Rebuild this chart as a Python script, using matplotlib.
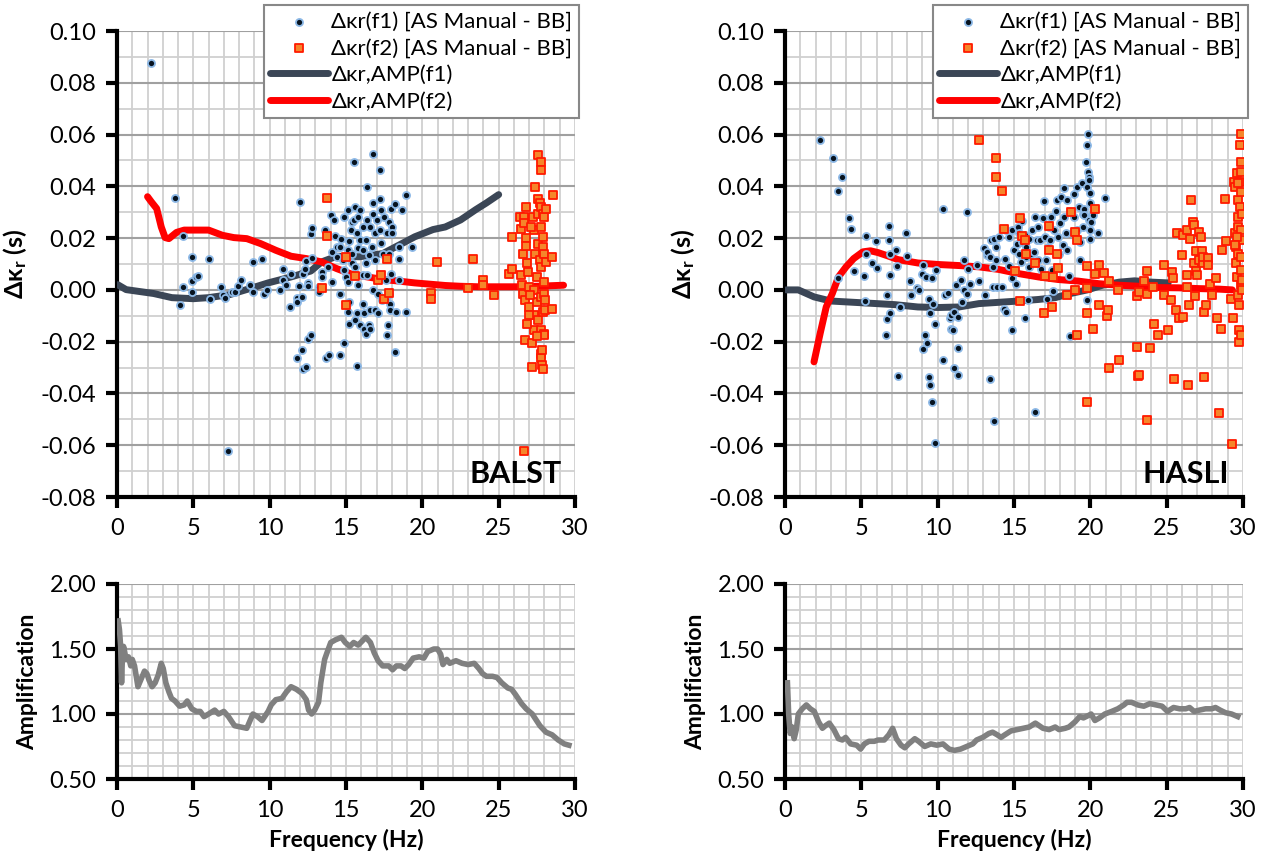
import numpy as np
import matplotlib.pyplot as plt
from matplotlib.ticker import MultipleLocator, FormatStrFormatter

plt.rcParams['font.family'] = ['Lato', 'DejaVu Sans']
plt.rcParams['mathtext.default'] = 'regular'

# ---- BALST: manual kappa differences (f, dk) ----
balst_f1_pts = [
    (2.2, 0.0875), (3.82, 0.0356), (4.3, 0.021), (4.1, -0.006), (4.3, 0.001), (4.9, 0.0128),
    (4.9, 0.0033), (4.9, -0.001), (5.2, 0.005), (5.3, 0.0055), (6.0, 0.012), (6.1, -0.0036),
    (6.8, 0.001), (6.95, -0.002), (7.1, -0.003), (7.3, -0.0622), (7.5, -0.001), (7.7, -0.001),
    (7.9, 0.0015), (8.1, 0.004), (8.7, 0.002), (8.9, -0.001), (8.9, 0.0108), (9.5, 0.012),
    (9.6, -0.0015), (9.8, 0.0), (10.7, 0.0), (10.9, 0.008), (10.9, 0.0037), (11.1, 0.0018),
    (11.3, -0.0066), (11.4, 0.006), (11.8, -0.0033), (11.8, -0.0046), (12.0, 0.0338),
    (11.8, -0.0265), (12.1, -0.0233), (12.2, -0.0307), (12.4, -0.0298), (12.5, -0.019),
    (12.7, -0.0173), (11.9, 0.0014), (12.1, -0.0027), (12.2, 0.0063), (12.3, 0.008),
    (12.4, 0.011), (12.5, 0.0027), (12.5, 0.0014), (12.7, 0.0214), (12.8, 0.024), (12.8, 0.0124),
    (13.2, -0.001), (13.2, 0.0012), (13.4, 0.007), (13.4, 0.005), (13.6, 0.023), (13.7, -0.0263),
    (13.8, 0.009), (13.9, -0.025), (14.0, 0.029), (14.1, 0.0147), (14.1, 0.003), (14.2, 0.027),
    (14.3, 0.021), (14.4, 0.0166), (14.4, 0.0128), (14.6, 0.0166), (14.6, -0.0014), (14.6, -0.025),
    (14.7, 0.0196), (14.8, 0.0115), (14.9, -0.0207), (14.9, 0.028), (14.9, 0.0076), (15.0, 0.005),
    (15.1, 0.0308), (15.1, 0.0153), (15.1, 0.003), (15.1, -0.0085), (15.2, -0.013), (15.2, -0.0046),
    (15.2, 0.019), (15.3, 0.0233), (15.4, 0.0263), (15.4, 0.014), (15.4, 0.0102), (15.5, 0.0495),
    (15.5, 0.027), (15.6, 0.032), (15.6, 0.0089), (15.6, -0.0117), (15.7, -0.0294), (15.7, -0.0091),
    (15.7, 0.0218), (15.8, 0.016), (15.8, 0.028), (15.8, 0.0018), (15.9, -0.0137), (15.9, 0.0308),
    (15.9, 0.0192), (16.1, 0.0057), (16.1, -0.0053), (16.1, 0.0153), (16.1, 0.0243), (16.2, -0.0091),
    (16.2, -0.015), (16.3, -0.0169), (16.3, 0.0102), (16.3, 0.0192), (16.4, 0.0396), (16.4, 0.027),
    (16.4, 0.0057), (16.5, -0.0137), (16.5, 0.0134), (16.6, 0.0243), (16.6, -0.0079), (16.6, -0.015),
    (16.7, 0.0166), (16.75, 0.0523), (16.8, 0.0334), (16.8, 0.0), (16.8, 0.0295), (16.9, 0.0218),
    (16.9, -0.0079), (16.9, 0.0115), (17.0, 0.027), (17.1, -0.0014), (17.1, -0.0091), (17.2, 0.0353),
    (17.2, 0.023), (17.25, 0.0463), (17.3, 0.0308), (17.3, 0.018), (17.35, -0.004), (17.4, 0.014),
    (17.5, 0.028), (17.6, 0.0037), (17.6, -0.0033), (17.7, 0.0218), (17.7, -0.0175), (17.75, -0.0137),
    (17.8, 0.0263), (17.8, 0.014), (17.8, -0.0014), (17.9, -0.0053), (17.9, -0.0079), (17.95, 0.0314),
    (17.95, 0.0063), (18.0, 0.0243), (18.0, 0.0218), (18.2, 0.033), (18.2, -0.024), (18.3, -0.0085),
    (18.45, 0.0166), (18.45, 0.0121), (18.5, 0.0037), (18.7, 0.031), (18.9, 0.0368), (18.9, -0.0085),
    (19.3, 0.0164),
]
balst_f2_pts = [
    (13.75, 0.0356), (13.75, 0.021), (13.4, 0.0008), (15.0, 0.0128), (15.0, -0.006), (15.6, 0.0055),
    (17.1, 0.0037), (17.5, -0.0036), (17.7, 0.012), (17.8, -0.0012), (17.3, 0.0058), (20.6, -0.0012),
    (20.6, -0.0035), (20.95, 0.0108), (23.0, 0.0009), (23.3, 0.012), (24.0, 0.0037), (24.0, 0.002),
    (24.7, -0.002), (25.7, 0.006), (25.85, 0.008), (25.9, 0.0203), (26.4, 0.028), (26.45, 0.0237),
    (26.65, 0.028), (26.65, 0.026), (26.8, 0.0322), (26.45, 0.0057), (26.5, 0.0018), (26.6, 0.0138),
    (26.6, -0.0014), (26.7, -0.0192), (26.65, -0.0622), (26.7, -0.004), (26.8, 0.0201), (26.8, 0.0169),
    (26.85, 0.0102), (26.95, 0.007), (27.0, 0.0012), (27.0, -0.0066), (27.2, -0.0207), (27.2, -0.0298),
    (27.25, 0.028), (27.3, 0.0231), (27.3, 0.0), (27.3, -0.0098), (27.3, -0.0156), (27.4, 0.0398),
    (27.4, 0.014), (27.5, 0.005), (27.5, -0.0046), (27.55, 0.0295), (27.55, 0.0179), (27.6, -0.0117),
    (27.6, 0.0353), (27.6, 0.052), (27.7, 0.0334), (27.7, 0.0115), (27.75, 0.0495), (27.75, 0.0463),
    (27.75, 0.0243), (27.75, -0.0027), (27.8, -0.0246), (27.8, -0.0265), (27.8, 0.032), (27.8, 0.0089),
    (27.8, -0.0156), (27.85, -0.0233), (27.85, -0.0291), (27.9, -0.0307), (27.9, 0.0205), (27.9, 0.0166),
    (27.9, -0.0085), (27.9, 0.0295), (27.95, 0.003), (27.95, -0.0169), (27.95, 0.028), (28.0, 0.014),
    (28.0, -0.0014), (28.0, -0.0173), (28.05, -0.004), (28.05, -0.0079), (28.1, 0.0314), (28.1, 0.0108),
    (28.5, 0.0128), (28.5, -0.0072), (28.55, 0.0368), (27.1, 0.0243), (27.05, -0.002), (26.85, -0.013),
    (27.0, -0.0098), (27.5, -0.018),
]
balst_amp1_f = [0.05, 0.6, 2.4, 3.6, 5.0, 6.0, 7.4, 8.7, 9.9, 11.4, 12.7, 13.4, 14.4, 15.9, 17.4,
                18.7, 19.5, 20.7, 21.5, 22.5, 23.5, 24.2, 25.0]
balst_amp1_dk = [0.002, 0.0001, -0.0014, -0.003, -0.0034, -0.003, -0.0018, 0.0005, 0.0027, 0.005,
                 0.0073, 0.0108, 0.013, 0.0128, 0.014, 0.018, 0.0205, 0.0233, 0.0243, 0.027, 0.031,
                 0.0336, 0.0368]
balst_amp2_f = [2.0, 2.25, 2.6, 2.9, 3.15, 3.4, 3.9, 4.4, 5.15, 6.0, 6.9, 7.65, 8.5, 9.4, 10.4, 11.4,
                12.4, 13.4, 14.4, 15.4, 16.4, 17.45, 18.45, 19.5, 20.5, 21.5, 22.5, 23.7, 25.0, 26.2,
                27.5, 29.25]
balst_amp2_dk = [0.036, 0.034, 0.0314, 0.0243, 0.0202, 0.0198, 0.0222, 0.0231, 0.0231, 0.0231, 0.0211,
                 0.0202, 0.0198, 0.0179, 0.0153, 0.013, 0.0121, 0.0108, 0.0082, 0.006, 0.005, 0.004,
                 0.0034, 0.0027, 0.0022, 0.0017, 0.0014, 0.0012, 0.0012, 0.0012, 0.0014, 0.0018]

# ---- HASLI ----
hasli_f1_pts = [
    (2.3, 0.0579), (3.15, 0.0508), (3.5, 0.0381), (3.75, 0.0437), (4.2, 0.0276), (4.3, 0.0236),
    (3.5, 0.0046), (4.55, 0.0073), (5.2, 0.0053), (5.25, -0.0044), (5.3, 0.0209), (5.3, 0.014),
    (5.67, 0.0104), (5.95, 0.019), (6.0, 0.0085), (6.8, 0.0247), (6.8, 0.0192), (6.85, 0.0057),
    (6.9, 0.0137), (7.25, 0.0153), (6.65, -0.002), (6.65, -0.0113), (6.85, -0.0091), (6.6, -0.0173),
    (7.4, -0.0332), (7.35, 0.0091), (7.5, -0.0066), (7.9, 0.0218), (8.0, 0.013), (8.2, 0.0033),
    (8.25, -0.002), (8.65, 0.0009), (8.8, 0.0), (9.0, 0.0063), (9.05, -0.0227), (9.05, 0.0098),
    (9.2, -0.0173), (9.25, 0.005), (9.3, -0.0204), (9.4, -0.0336), (9.45, -0.0034), (9.5, -0.0091),
    (9.5, -0.0368), (9.6, 0.0044), (9.65, -0.0433), (9.7, -0.0053), (9.8, -0.013), (9.8, -0.0591),
    (9.9, 0.0076), (10.35, 0.0314), (10.35, -0.0272), (10.45, -0.002), (10.7, -0.0012), (10.8, -0.011),
    (10.85, -0.0153), (10.9, -0.0098), (11.0, -0.0156), (11.05, -0.03), (11.1, -0.0085), (11.2, 0.0018),
    (11.3, -0.0224), (11.3, -0.0327), (11.35, -0.0104), (11.5, 0.0037), (11.6, -0.0046), (11.7, 0.0),
    (11.75, 0.0115), (11.9, -0.0014), (11.95, 0.0302), (12.0, 0.0079), (12.15, 0.0024), (12.6, 0.0098),
    (12.7, 0.0033), (13.05, 0.016), (13.1, -0.002), (13.2, 0.0134), (13.25, 0.0147), (13.4, -0.0345),
    (13.45, 0.0128), (13.5, 0.0192), (13.6, 0.0089), (13.65, 0.0012), (13.7, -0.0506), (13.7, 0.0198),
    (13.8, 0.0164), (13.85, 0.0115), (13.9, 0.0012), (14.0, 0.0205), (14.2, 0.0012), (14.35, -0.0075),
    (14.4, 0.0121), (14.5, 0.0231), (14.5, -0.0085), (14.65, 0.0093), (14.7, 0.0205), (14.85, -0.0156),
    (14.9, 0.0044), (14.9, 0.0231), (15.0, 0.0153), (15.05, 0.007), (15.1, 0.0024), (15.2, 0.0179),
    (15.25, 0.0244), (15.3, 0.0218), (15.35, 0.014), (15.45, 0.0108), (15.5, 0.0265), (15.55, 0.0186),
    (15.7, 0.0211), (15.7, -0.011), (15.8, 0.0128), (15.8, 0.0166), (15.9, -0.004), (15.95, 0.0089),
    (16.0, 0.0198), (16.1, 0.014), (16.2, 0.0231), (16.3, 0.0147), (16.35, -0.0473), (16.4, 0.0282),
    (16.5, 0.0192), (16.55, 0.0115), (16.6, 0.0244), (16.7, 0.0192), (16.75, 0.0082), (16.9, 0.0276),
    (16.95, 0.0343), (17.0, 0.0205), (17.1, 0.0115), (17.15, -0.0037), (17.2, 0.0166), (17.3, 0.0244),
    (17.35, 0.0192), (17.4, 0.0282), (17.5, 0.0076), (17.55, -0.0005), (17.65, 0.0231), (17.75, 0.0305),
    (17.8, 0.0349), (17.9, 0.0205), (17.95, 0.014), (18.0, 0.0259), (18.1, 0.036), (18.2, 0.0173),
    (18.25, 0.0282), (18.3, 0.0392), (18.4, 0.0218), (18.45, 0.0347), (18.5, 0.0153), (18.6, 0.0053),
    (18.7, -0.0179), (18.85, 0.0218), (18.9, 0.0372), (18.95, 0.0282), (19.1, 0.0231), (19.15, 0.0398),
    (19.25, 0.0321), (19.3, 0.0115), (19.35, 0.0186), (19.45, 0.0414), (19.5, 0.0295), (19.55, 0.0244),
    (19.6, 0.0314), (19.6, 0.0289), (19.7, 0.0495), (19.75, 0.0398), (19.75, 0.056), (19.8, -0.004),
    (19.85, 0.0604), (19.85, 0.0456), (19.9, 0.0437), (19.9, 0.0424), (19.9, 0.0269), (19.95, 0.0336),
    (20.0, 0.0198), (20.0, 0.0375), (20.0, 0.0231), (20.05, 0.0263), (20.1, 0.0295), (20.15, 0.0289),
    (20.5, 0.0218), (20.95, 0.0356),
]
hasli_f2_pts = [
    (12.7, 0.0579), (13.85, 0.0508), (13.8, 0.0437), (14.2, 0.0381), (14.35, 0.0236), (15.4, 0.0276),
    (15.5, 0.0209), (15.7, 0.0192), (15.8, 0.014), (15.05, 0.0073), (15.4, -0.0044), (16.35, 0.0104),
    (16.95, -0.0091), (17.05, 0.0053), (17.3, 0.0247), (17.3, 0.0153), (17.55, 0.005), (17.5, -0.0066),
    (17.8, 0.014), (17.9, 0.0085), (18.5, -0.002), (18.75, 0.0302), (19.0, 0.0222), (19.1, 0.0192),
    (19.1, -0.0173), (19.0, 0.0), (19.75, 0.0091), (19.8, 0.0008), (19.8, -0.0091), (19.8, -0.0433),
    (20.15, -0.0153), (20.3, 0.0314), (20.3, 0.0063), (20.55, 0.0098), (20.6, -0.0059), (20.9, 0.0066),
    (21.1, -0.0102), (21.15, -0.0079), (21.2, -0.03), (21.2, 0.0033), (21.8, 0.0), (21.9, -0.0272),
    (23.05, -0.022), (23.05, -0.0024), (23.2, -0.0008), (23.1, -0.0332), (23.2, -0.0327), (23.5, 0.0033),
    (23.7, 0.0073), (23.7, -0.0014), (23.7, -0.0504), (23.9, -0.0224), (24.1, 0.0012), (24.2, -0.013),
    (24.4, -0.0173), (24.8, -0.002), (24.85, 0.0095), (25.1, -0.0156), (25.3, -0.004), (25.35, 0.007),
    (25.4, 0.0044), (25.5, -0.0345), (25.6, -0.0079), (25.65, 0.022), (25.8, -0.011), (26.0, 0.0134),
    (26.05, -0.0104), (26.1, 0.0211), (26.3, 0.0233), (26.3, 0.0012), (26.3, 0.0057), (26.4, -0.0368),
    (26.45, -0.0059), (26.55, 0.0198), (26.6, 0.0347), (26.7, 0.0263), (26.8, 0.025), (26.8, 0.0102),
    (26.85, -0.0023), (26.9, 0.0072), (26.95, 0.015), (27.0, 0.0057), (27.1, 0.0224), (27.15, 0.0115),
    (27.25, 0.0205), (27.3, 0.0151), (27.4, 0.0102), (27.4, 0.0128), (27.45, -0.0085), (27.45, -0.0336),
    (27.6, -0.0059), (27.7, 0.0125), (27.7, 0.0095), (27.85, 0.0024), (28.0, -0.0018), (28.2, 0.0044),
    (28.3, -0.011), (28.4, -0.0474), (28.55, -0.015), (28.6, 0.0153), (28.8, 0.0353), (28.9, 0.0188),
    (29.2, -0.0037), (29.25, -0.0594), (29.35, -0.0108), (29.4, 0.0415), (29.45, 0.0398), (29.5, 0.0218),
    (29.55, 0.0166), (29.55, 0.0102), (29.6, 0.005), (29.6, 0.045), (29.65, 0.014), (29.65, 0.0244),
    (29.7, 0.0347), (29.7, 0.0282), (29.7, -0.002), (29.75, -0.0057), (29.75, -0.0201), (29.75, -0.0156),
    (29.8, 0.056), (29.8, 0.0418), (29.8, 0.0321), (29.85, 0.0192), (29.85, 0.0076), (29.85, 0.0495),
    (29.85, 0.0018), (29.9, 0.0604), (29.9, 0.0379), (29.9, 0.0231), (29.9, -0.0175), (29.9, 0.0456),
    (29.9, 0.0128), (29.95, 0.0295), (29.95, 0.0037), (29.95, 0.0), (29.6, 0.0205), (29.45, 0.0173),
    (29.7, 0.0411),
]
hasli_amp1_f = [0.08, 0.87, 1.9, 3.0, 5.1, 7.2, 8.7, 10.05, 11.4, 12.7, 14.0, 15.3, 16.6, 17.7, 18.7,
                19.8, 20.8, 21.9, 22.9, 24.0, 25.1]
hasli_amp1_dk = [0.0, 0.0, -0.0027, -0.0043, -0.005, -0.0057, -0.0066, -0.0068, -0.0066, -0.0053,
                 -0.0048, -0.0043, -0.0037, -0.003, -0.0014, 0.0, 0.0018, 0.003, 0.0035, 0.003, 0.0027]
hasli_amp2_f = [1.9, 2.3, 2.7, 3.1, 3.5, 4.0, 4.5, 5.1, 5.6, 6.1, 6.8, 7.4, 8.7, 10.05, 11.4, 12.7,
                14.0, 15.3, 16.6, 17.9, 19.2, 20.55, 21.9, 23.2, 24.5, 25.8, 27.1, 28.4, 29.3]
hasli_amp2_dk = [-0.0278, -0.0169, -0.0066, -0.0014, 0.005, 0.0089, 0.0121, 0.0147, 0.0151, 0.0144,
                 0.013, 0.0117, 0.0104, 0.0098, 0.0094, 0.0089, 0.0079, 0.0063, 0.005, 0.004, 0.0034,
                 0.0024, 0.0018, 0.0014, 0.0009, 0.0008, 0.0005, 0.0003, 0.0]

# ---- amplification spectra ----
balst_amp_f = [0.08, 0.16, 0.24, 0.3, 0.35, 0.43, 0.5, 0.6, 0.75, 0.9, 1.0, 1.15, 1.37, 1.55, 1.8, 1.96,
               2.1, 2.3, 2.5, 2.7, 2.9, 3.03, 3.2, 3.4, 3.57, 3.8, 4.1, 4.4, 4.6, 4.9, 5.2, 5.45, 5.7,
               6.0, 6.4, 6.65, 7.0, 7.3, 7.7, 8.1, 8.5, 8.9, 9.2, 9.5, 9.9, 10.1, 10.4, 10.8, 11.1,
               11.4, 11.75, 12.1, 12.4, 12.55, 12.75, 12.95, 13.2, 13.35, 13.6, 13.75, 14.0, 14.3,
               14.7, 14.95, 15.25, 15.5, 15.8, 16.05, 16.3, 16.6, 16.85, 17.1, 17.4, 17.8, 18.05,
               18.3, 18.6, 18.85, 19.1, 19.4, 19.8, 20.1, 20.35, 20.75, 21.0, 21.2, 21.35, 21.6, 21.8,
               22.2, 22.6, 23.0, 23.4, 23.7, 23.95, 24.2, 24.6, 24.9, 25.2, 25.6, 25.85, 26.1, 26.5,
               26.8, 27.2, 27.7, 28.1, 28.5, 28.9, 29.3, 29.6]
balst_amp = [1.716, 1.65, 1.52, 1.24, 1.42, 1.52, 1.48, 1.42, 1.44, 1.37, 1.42, 1.37, 1.21, 1.26, 1.33,
             1.31, 1.26, 1.21, 1.24, 1.30, 1.39, 1.35, 1.24, 1.17, 1.12, 1.10, 1.06, 1.07, 1.10, 1.04,
             1.02, 1.02, 0.98, 1.00, 1.03, 1.00, 1.02, 0.98, 0.91, 0.90, 0.89, 1.00, 0.98, 0.95, 1.02,
             1.07, 1.11, 1.12, 1.17, 1.21, 1.19, 1.16, 1.11, 1.03, 1.00, 1.03, 1.09, 1.24, 1.42, 1.47,
             1.55, 1.57, 1.59, 1.55, 1.52, 1.55, 1.53, 1.56, 1.59, 1.55, 1.47, 1.41, 1.37, 1.37, 1.34,
             1.37, 1.37, 1.35, 1.38, 1.43, 1.44, 1.43, 1.48, 1.50, 1.50, 1.46, 1.38, 1.42, 1.39, 1.41,
             1.39, 1.38, 1.39, 1.35, 1.31, 1.29, 1.29, 1.28, 1.24, 1.20, 1.19, 1.15, 1.08, 1.04, 1.00,
             0.91, 0.86, 0.84, 0.80, 0.77, 0.76]
hasli_amp_f = [0.16, 0.24, 0.34, 0.47, 0.6, 0.74, 0.87, 1.13, 1.4, 1.66, 1.92, 2.2, 2.45, 2.65, 2.9, 3.2,
               3.5, 3.76, 3.97, 4.3, 4.7, 4.95, 5.2, 5.5, 5.85, 6.1, 6.5, 6.8, 7.05, 7.3, 7.6, 7.85, 8.1,
               8.5, 8.75, 9.15, 9.55, 9.95, 10.35, 10.75, 11.1, 11.5, 11.9, 12.3, 12.55, 12.95, 13.35,
               13.6, 13.9, 14.15, 14.4, 14.8, 15.2, 15.6, 16.0, 16.4, 16.65, 16.9, 17.3, 17.7, 17.95,
               18.35, 18.6, 19.0, 19.3, 19.55, 19.9, 20.05, 20.3, 20.6, 20.95, 21.4, 21.8, 22.2, 22.4,
               22.7, 23.1, 23.5, 23.9, 24.3, 24.7, 25.05, 25.45, 25.85, 26.25, 26.5, 26.8, 27.15, 27.55,
               27.95, 28.2, 28.5, 28.85, 29.25, 29.65]
hasli_amp = [1.24, 1.00, 0.85, 0.90, 0.81, 0.88, 1.00, 1.04, 1.07, 1.04, 1.02, 0.94, 0.89, 0.91, 0.93,
             0.88, 0.81, 0.80, 0.82, 0.77, 0.76, 0.73, 0.77, 0.79, 0.79, 0.80, 0.80, 0.84, 0.89, 0.81,
             0.76, 0.74, 0.77, 0.81, 0.79, 0.75, 0.77, 0.76, 0.77, 0.73, 0.72, 0.73, 0.75, 0.77, 0.80,
             0.82, 0.85, 0.86, 0.84, 0.82, 0.84, 0.87, 0.88, 0.89, 0.90, 0.93, 0.91, 0.89, 0.88, 0.90,
             0.88, 0.89, 0.90, 0.94, 0.98, 0.97, 0.99, 1.00, 0.95, 0.97, 1.00, 1.02, 1.04, 1.07, 1.09,
             1.09, 1.07, 1.06, 1.08, 1.07, 1.06, 1.02, 1.05, 1.04, 1.04, 1.05, 1.02, 1.03, 1.04, 1.04,
             1.05, 1.03, 1.01, 1.00, 0.98]

stations = ['BALST', 'HASLI']
legend_labels = ['Δκr(f1) [AS Manual - BB]', 'Δκr(f2) [AS Manual - BB]', 'Δκr,AMP(f1)', 'Δκr,AMP(f2)']

C_DARK = '#3b4656'
C_RED = '#ff0000'
C_AMP = '#808080'


def style_axes(ax):
    ax.set_xlim(0, 30)
    ax.xaxis.set_major_locator(MultipleLocator(5))
    ax.xaxis.set_minor_locator(MultipleLocator(1))
    ax.grid(True, which='minor', axis='both', color='#d0d0d0', lw=1.3, zorder=0)
    ax.grid(True, which='major', axis='x', color='#d0d0d0', lw=1.3, zorder=0)
    ax.grid(True, which='major', axis='y', color='#a0a0a0', lw=1.5, zorder=0)
    ax.set_axisbelow(True)
    for s in ['top', 'right']:
        ax.spines[s].set_visible(False)
    for s in ['left', 'bottom']:
        ax.spines[s].set_linewidth(3)
    ax.tick_params(which='major', direction='out', length=8, width=3, labelsize=17, pad=7)
    ax.tick_params(which='minor', length=0)


fig = plt.figure(figsize=(12.65, 8.56), dpi=100)
lefts = [117 / 1265, 785 / 1265]
w = 458 / 1265

top_data = [
    (balst_f1_pts, balst_f2_pts, balst_amp1_f, balst_amp1_dk, balst_amp2_f, balst_amp2_dk),
    (hasli_f1_pts, hasli_f2_pts, hasli_amp1_f, hasli_amp1_dk, hasli_amp2_f, hasli_amp2_dk),
]
amp_data = [(balst_amp_f, balst_amp), (hasli_amp_f, hasli_amp)]

for i in range(2):
    f1, f2, a1f, a1k, a2f, a2k = top_data[i]
    f1 = np.array(f1)
    f2 = np.array(f2)

    ax = fig.add_axes([lefts[i], 1 - 497 / 856, w, 466 / 856])
    style_axes(ax)
    ax.set_ylim(-0.08, 0.10)
    ax.yaxis.set_major_locator(MultipleLocator(0.02))
    ax.yaxis.set_minor_locator(MultipleLocator(0.01))
    ax.yaxis.set_major_formatter(FormatStrFormatter('%.2f'))

    l1, = ax.plot(a1f, a1k, color=C_DARK, lw=5, solid_capstyle='round', zorder=3)
    l2, = ax.plot(a2f, a2k, color=C_RED, lw=5, solid_capstyle='round', zorder=3)
    s1 = ax.scatter(f1[:, 0], f1[:, 1], s=26, marker='o', facecolor='#07131f',
                    edgecolor='#8cb8e6', linewidth=1.3, zorder=4)
    s2 = ax.scatter(f2[:, 0], f2[:, 1], s=30, marker='s', facecolor='#f5862a',
                    edgecolor='#ff1a00', linewidth=1.3, zorder=5)

    ax.set_ylabel('Δκ$_r$ (s)', fontsize=18, fontweight='bold', labelpad=8)
    ax.text(0.97, 0.02, stations[i], transform=ax.transAxes, ha='right', va='bottom',
            fontsize=22, fontweight='bold')

    right_px = [579, 1248][i]
    leg = ax.legend([s1, s2, l1, l2], legend_labels, loc='upper right',
                    bbox_to_anchor=(right_px / 1265, 1 - 5 / 856), bbox_transform=fig.transFigure,
                    fontsize=16, frameon=True, fancybox=False, edgecolor='#888888',
                    framealpha=1, handlelength=2.6, handletextpad=0.15, borderpad=0.3,
                    labelspacing=0.3, borderaxespad=0, scatterpoints=1)
    leg.get_frame().set_linewidth(1.5)
    leg.set_zorder(10)

    bx = fig.add_axes([lefts[i], 1 - 779 / 856, w, 195 / 856])
    style_axes(bx)
    bx.set_ylim(0.5, 2.0)
    bx.yaxis.set_major_locator(MultipleLocator(0.5))
    bx.yaxis.set_minor_locator(MultipleLocator(0.1))
    bx.yaxis.set_major_formatter(FormatStrFormatter('%.2f'))
    af, av = amp_data[i]
    bx.plot(af, av, color=C_AMP, lw=4, solid_joinstyle='round', zorder=3)
    bx.set_ylabel('Amplification', fontsize=16.5, fontweight='bold', labelpad=8)
    bx.set_xlabel('Frequency (Hz)', fontsize=16.5, fontweight='bold', labelpad=6)

fig.savefig('out.png', dpi=100)
